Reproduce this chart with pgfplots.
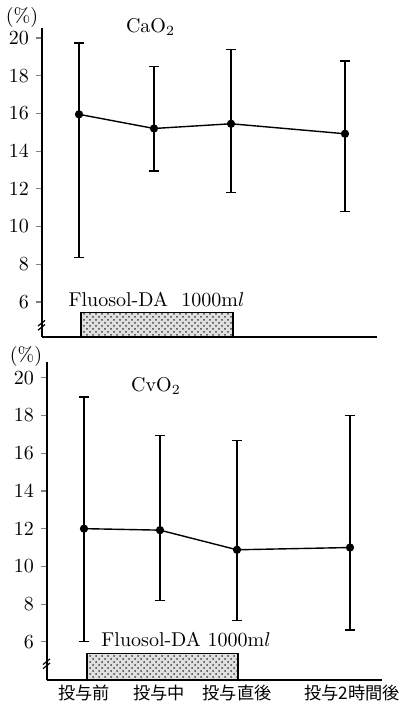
\documentclass[border=0pt]{standalone}
\usepackage{pgfplots}
\pgfplotsset{compat=1.18}
\usepackage{fontspec}
\newfontfamily\cjk{Noto Sans CJK JP}
\usetikzlibrary{patterns}

\begin{document}
\begin{tikzpicture}
\useasboundingbox (0,0) rectangle (202.5pt,-352pt);
\pgfplotsset{
  panel/.style={scale only axis, width=167.5pt, xmin=42, xmax=377,
    axis x line=bottom, axis y line=left,
    axis line style={-, line width=0.7pt},
    ytick={6,8,...,20}, tick align=outside,
    ytick style={line width=0.6pt}, major tick length=3pt,
    xtick={79,154,232,347}, xtick style={draw=none},
    clip=false,
    tick label style={font=\fontsize{10}{12}\selectfont}},
  mean/.style={black, line width=0.7pt, mark=*, mark size=1.7pt,
    error bars/.cd, y dir=both, y explicit,
    error bar style={line width=0.6pt},
    error mark options={rotate=90, mark size=2.6pt, line width=0.6pt}},
  infusion/.style={draw=black, line width=0.6pt, fill=black!12,
    postaction={pattern=crosshatch dots, pattern color=black!75}}
}

% ---------- top panel: CaO2 ----------
\begin{axis}[panel, at={(21pt,-168.5pt)}, anchor=south west,
  height=154.5pt, ymin=4.14, ymax=20.53, xticklabels={}]
\addplot[infusion] coordinates {(81,4.14) (233,4.14) (233,5.43) (81,5.43)} --cycle;
\addplot[mean] coordinates {
  (79,15.95)  += (0,3.78) -= (0,7.60)
  (154,15.20) += (0,3.28) -= (0,2.25)
  (231,15.45) += (0,3.95) -= (0,3.65)
  (345,14.92) += (0,3.86) -= (0,4.12)
};
\draw[line width=0.6pt] (axis cs:38,4.72) -- (axis cs:45,5.02);
\draw[line width=0.6pt] (axis cs:38,4.50) -- (axis cs:45,4.80);
\end{axis}

% ---------- bottom panel: CvO2 ----------
\begin{axis}[panel, at={(23.5pt,-340pt)}, anchor=south west,
  height=159pt, ymin=3.98, ymax=20.83,
  xticklabels={{投与前},{投与中},{投与直後},{投与2時間後}},
  xticklabel style={font=\cjk\fontsize{8.6}{9}\selectfont,
    anchor=north, inner sep=0pt, text height=7.4pt, text depth=0.9pt,
    yshift=1pt}]
\addplot[infusion] coordinates {(82,3.98) (233,3.98) (233,5.40) (82,5.40)} --cycle;
\addplot[mean] coordinates {
  (79,12.00)  += (0,6.98) -= (0,6.00)
  (155,11.92) += (0,5.03) -= (0,3.72)
  (232,10.88) += (0,5.77) -= (0,3.76)
  (345,11.00) += (0,7.00) -= (0,4.37)
};
\draw[line width=0.6pt] (axis cs:38,4.80) -- (axis cs:45,5.10);
\draw[line width=0.6pt] (axis cs:38,4.58) -- (axis cs:45,4.88);
\end{axis}

% ---------- texts ----------
\node[font=\fontsize{10}{12}\selectfont] at (11pt,-9pt) {(\%)};
\node[font=\fontsize{10}{12}\selectfont] at (13pt,-178.5pt) {(\%)};
\node[font=\fontsize{10}{12}\selectfont] at (75.25pt,-13.5pt) {CaO$_2$};
\node[font=\fontsize{10}{12}\selectfont] at (78pt,-193pt) {CvO$_2$};
\node[font=\fontsize{10}{12}\selectfont] at (78.25pt,-150pt) {Fluosol-DA\ \ 1000m$l$};
\node[font=\fontsize{10}{12}\selectfont] at (93pt,-320pt) {Fluosol-DA 1000m$l$};
\end{tikzpicture}
\end{document}
